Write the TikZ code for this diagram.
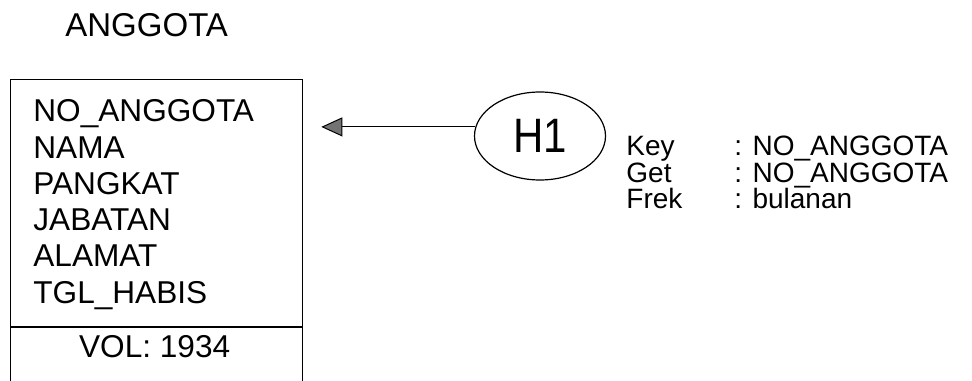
\documentclass[tikz,border=0pt]{standalone}
\usepackage{fontspec}
\usepackage{graphicx}
\setmainfont{Liberation Sans}
\usetikzlibrary{positioning,arrows.meta,shapes.geometric,calc}

\begin{document}
\begin{tikzpicture}[x=0.5pt, y=0.5pt,
    every node/.style={inner sep=0pt},
    entity/.style={draw, line width=0.65pt, anchor=north west,
                   minimum width=146pt, minimum height=160pt},
    attr/.style={font=\fontsize{15.8}{18}\selectfont, anchor=base west},
    title/.style={font=\fontsize{16.5}{20}\selectfont, anchor=base west},
    hub/.style={draw, ellipse, line width=0.6pt, minimum width=65.5pt,
                minimum height=44pt, font=\fontsize{21}{25}\selectfont},
    info/.style={font=\fontsize{14}{17}\selectfont, anchor=base west},
    arr/.style={-{Triangle[length=10.5pt, width=9.5pt, fill=black!55]},
                line width=0.5pt, shorten >=9pt},
]
  \clip (0,0) rectangle (972,380);
  % Entity box
  \node[entity] (ent) at (10,301) {};
  \node[title] (ttl) at ($(ent.north west)+(55,42)$) {ANGGOTA};
  % Attributes
  \foreach \f [count=\i] in {NO\_ANGGOTA, NAMA, PANGKAT, JABATAN, ALAMAT, TGL\_HABIS}
    \node[attr] (a\i) at ($(ent.north west)+(23,{-43-36.2*(\i-1)})$) {\f};
  % Volume part
  \coordinate (sep) at ($(ent.north west)+(0,-248)$);
  \draw[line width=0.65pt] (sep) -- (sep -| ent.east);
  \node[attr, anchor=base] (vol) at ($(sep -| ent.north)+(-2,-30)$) {VOL: 1934};
  % Access path
  \node[hub] (h1) at (540,244) {\scalebox{1}[1.15]{H1}};
  \draw[arr] (h1.172) -- (h1.172 -| ent.east);
  % Key / Get / Frek
  \foreach \lbl/\val [count=\i] in {Key/NO\_ANGGOTA, Get/NO\_ANGGOTA, Frek/bulanan} {
    \node[info] (k\i) at ($(h1.center)+(86,{-20-26.5*(\i-1)})$) {\lbl};
    \node[info] (v\i) at ($(k\i.base west)+(108,0)$) {: \val};
  }
\end{tikzpicture}
\end{document}
